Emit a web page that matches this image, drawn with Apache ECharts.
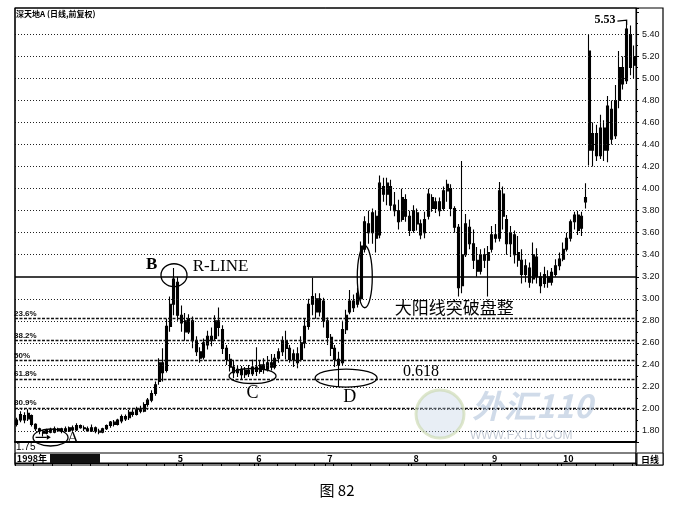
<!DOCTYPE html>
<html><head><meta charset="utf-8">
<script src="https://cdn.jsdelivr.net/npm/echarts@6/dist/echarts.min.js"></script>
<style>html,body{margin:0;padding:0;background:#fff}#c{width:676px;height:505px}</style>
</head><body><div id="c"></div>
<script>
// [open, close, low, high] per trading day
const ohlc = [
[1.86,1.90,1.84,1.92],[1.90,1.95,1.88,1.98],[1.94,1.90,1.87,1.97],[1.91,1.96,1.89,1.99],[1.94,1.86,1.84,1.95],
[1.86,1.82,1.80,1.87],[1.82,1.80,1.77,1.83],[1.80,1.78,1.75,1.81],[1.78,1.81,1.77,1.82],[1.81,1.79,1.78,1.83],
[1.79,1.82,1.78,1.84],[1.82,1.80,1.79,1.83],[1.80,1.82,1.78,1.83],[1.82,1.80,1.79,1.84],[1.80,1.83,1.79,1.84],
[1.83,1.81,1.80,1.85],[1.81,1.85,1.80,1.87],[1.85,1.83,1.82,1.86],[1.83,1.82,1.80,1.85],[1.82,1.80,1.79,1.84],
[1.80,1.83,1.79,1.86],[1.83,1.80,1.78,1.84],[1.80,1.79,1.77,1.82],[1.79,1.82,1.78,1.83],[1.82,1.85,1.81,1.86],
[1.85,1.88,1.83,1.89],[1.88,1.86,1.84,1.90],[1.86,1.90,1.85,1.91],[1.89,1.93,1.87,1.95],[1.93,1.91,1.89,1.95],
[1.92,1.97,1.90,1.99],[1.97,1.95,1.93,2.00],[1.95,2.00,1.94,2.02],[2.00,1.98,1.96,2.03],[1.98,2.04,1.97,2.06],
[2.04,2.08,2.02,2.10],[2.08,2.14,2.06,2.17],[2.14,2.22,2.12,2.25],[2.25,2.42,2.22,2.46],[2.42,2.33,2.25,2.55],
[2.35,2.75,2.33,2.82],[2.75,2.95,2.70,3.02],[2.95,3.18,2.85,3.28],[3.15,2.85,2.80,3.20],[2.85,2.78,2.70,2.94],
[2.80,2.70,2.62,2.87],[2.70,2.82,2.68,2.86],[2.80,2.62,2.55,2.84],[2.62,2.52,2.48,2.66],[2.52,2.46,2.42,2.56],
[2.47,2.60,2.45,2.64],[2.58,2.66,2.54,2.71],[2.66,2.62,2.57,2.74],[2.64,2.80,2.62,2.85],[2.80,2.74,2.66,2.92],
[2.72,2.55,2.50,2.76],[2.55,2.45,2.40,2.58],[2.45,2.38,2.34,2.50],[2.38,2.33,2.28,2.44],[2.33,2.36,2.29,2.40],
[2.36,2.31,2.27,2.39],[2.31,2.35,2.28,2.38],[2.35,2.32,2.29,2.40],[2.32,2.38,2.30,2.45],[2.38,2.34,2.30,2.56],
[2.34,2.40,2.32,2.44],[2.40,2.36,2.32,2.46],[2.36,2.42,2.34,2.48],[2.42,2.38,2.35,2.50],[2.38,2.46,2.36,2.50],
[2.46,2.52,2.42,2.55],[2.52,2.62,2.48,2.66],[2.62,2.55,2.45,2.71],[2.55,2.45,2.42,2.58],[2.45,2.50,2.38,2.54],
[2.50,2.42,2.37,2.56],[2.45,2.60,2.43,2.66],[2.60,2.75,2.55,2.82],[2.75,2.95,2.72,3.00],[2.95,3.02,2.85,3.19],
[3.00,2.88,2.82,3.05],[2.88,3.00,2.84,3.05],[2.98,2.80,2.74,3.01],[2.80,2.65,2.58,2.83],[2.65,2.55,2.48,2.68],
[2.55,2.45,2.38,2.58],[2.45,2.40,2.20,2.52],[2.42,2.72,2.40,2.80],[2.72,2.85,2.68,2.90],[2.88,2.98,2.86,3.08],
[2.98,2.92,2.88,3.04],[2.95,3.05,2.92,3.10],[3.00,3.48,2.98,3.52],[3.45,3.70,3.42,3.75],[3.68,3.60,3.50,3.80],
[3.60,3.78,3.50,3.82],[3.75,3.55,3.42,3.80],[3.58,4.05,3.55,4.12],[4.02,3.95,3.88,4.10],[3.95,4.05,3.85,4.10],
[4.02,3.85,3.80,4.08],[3.85,3.80,3.75,3.97],[3.80,3.70,3.63,3.90],[3.72,3.92,3.70,4.00],[3.90,3.75,3.70,3.95],
[3.75,3.62,3.57,3.80],[3.62,3.80,3.60,3.85],[3.78,3.68,3.62,3.82],[3.68,3.58,3.54,3.72],[3.60,3.72,3.55,3.79],
[3.75,3.95,3.72,4.00],[3.92,3.82,3.79,3.95],[3.82,3.88,3.78,3.92],[3.88,3.80,3.75,3.92],[3.82,3.98,3.80,4.02],
[3.98,4.04,3.88,4.08],[4.00,3.82,3.75,4.04],[3.82,3.65,3.60,3.84],[3.65,3.10,3.02,3.68],[3.12,3.40,3.05,4.25],
[3.40,3.68,3.38,3.77],[3.65,3.50,3.45,3.72],[3.50,3.35,3.27,3.63],[3.35,3.25,3.20,3.47],[3.25,3.40,3.22,3.45],
[3.40,3.35,3.28,3.46],[3.35,3.42,3.02,3.48],[3.45,3.58,3.42,3.66],[3.58,3.55,3.51,3.68],[3.55,3.98,3.52,4.06],
[3.95,3.75,3.63,4.02],[3.72,3.50,3.40,3.76],[3.50,3.60,3.38,3.66],[3.58,3.40,3.32,3.62],[3.42,3.35,3.29,3.57],
[3.35,3.22,3.14,3.45],[3.22,3.30,3.15,3.36],[3.28,3.15,3.10,3.33],[3.18,3.40,3.14,3.51],[3.38,3.20,3.14,3.46],
[3.20,3.12,3.05,3.24],[3.14,3.22,3.10,3.29],[3.20,3.15,3.10,3.26],[3.15,3.24,3.12,3.28],[3.22,3.30,3.20,3.36],
[3.30,3.36,3.26,3.42],[3.36,3.45,3.34,3.51],[3.45,3.55,3.43,3.60],[3.55,3.70,3.52,3.72],[3.70,3.76,3.63,3.79],
[3.76,3.62,3.58,3.80],[3.64,3.75,3.57,3.79],[3.88,3.92,3.82,4.05],[5.25,4.35,4.21,5.40],[4.35,4.50,4.20,4.60],
[4.50,4.30,4.25,4.58],[4.30,4.55,4.27,4.67],[4.55,4.35,4.25,4.62],[4.35,4.75,4.24,4.84],[4.72,4.45,4.40,4.80],
[4.48,4.80,4.45,4.94],[4.80,5.10,4.73,5.25],[5.10,4.95,4.90,5.20],[4.98,5.45,4.95,5.53],[5.40,5.10,5.03,5.48],
[5.12,5.20,5.00,5.30]
];
const monthStarts = [0, 43, 64, 83, 106, 127, 146];
const monthLabels = ['1998年', '5', '6', '7', '8', '9', '10'];
const gridLevels = [1.8,2.0,2.2,2.4,2.6,2.8,3.0,3.2,3.4,3.6,3.8,4.0,4.2,4.4,4.6,4.8,5.0,5.2,5.4];
const fibLevels = [2.82, 2.615, 2.435, 2.27, 2.01];
const fibLabels = ['23.6%', '38.2%', '50%', '61.8%', '80.9%'];
const rLineLevel = 3.20;
const lowA = 1.75, highPeak = 5.53;

const days = ohlc.map((d, i) => 'D' + (i + 1));
const labelAt = {};
monthStarts.forEach((s, k) => labelAt[s] = monthLabels[k]);

const chart = echarts.init(document.getElementById('c'), null, {renderer: 'canvas'});
const serif = '"Liberation Serif","DejaVu Serif",serif';
const cjk = '"Noto Sans CJK SC",sans-serif';

const markData = [];
gridLevels.forEach(v => { if (Math.abs(v - rLineLevel) > 1e-6) markData.push({yAxis: v, lineStyle: {type: [1, 2], color: '#222', width: 1}, label: {show: false}}); });
fibLevels.forEach((v, k) => markData.push({yAxis: v, lineStyle: {type: [3, 1.5], color: '#111', width: 1.4},
  label: {show: true, position: 'insideStartTop', formatter: fibLabels[k], fontSize: 8, fontWeight: 'bold', color: '#111', distance: [-1, 1], fontFamily: 'Liberation Sans'}}));
markData.push({yAxis: rLineLevel, lineStyle: {type: 'solid', color: '#000', width: 1.5}, label: {show: false}});

chart.setOption({
  animation: false,
  backgroundColor: '#fff',
  title: {text: '深天地A (日线,前复权)', left: 16, top: 10, padding: 0,
    textStyle: {fontSize: 8, fontWeight: 'bold', color: '#000', fontFamily: cjk}},
  grid: [
    {left: 15, right: 40, top: 8, bottom: 63, show: true, borderColor: '#000', borderWidth: 1},
    {left: 15, right: 40, top: 453, height: 10, show: true, borderColor: '#000', borderWidth: 1}
  ],
  xAxis: [
    {type: 'category', gridIndex: 0, data: days, boundaryGap: true,
      axisLine: {show: true, lineStyle: {color: '#000', width: 2}}, axisTick: {show: false}, axisLabel: {show: false}, splitLine: {show: false}},
    {type: 'category', gridIndex: 1, data: days, boundaryGap: true, position: 'top',
      axisLine: {show: true, lineStyle: {color: '#000', width: 1}},
      axisTick: {show: true, inside: true, length: 3, lineStyle: {color: '#000'}, interval: (i) => i % 5 === 0 || labelAt[i] !== undefined},
      axisLabel: {show: true, inside: true, margin: 1, fontSize: 9, fontWeight: 'bold', color: '#000', align: 'left', verticalAlign: 'top',
        fontFamily: cjk, interval: (i) => labelAt[i] !== undefined, formatter: (v, i) => labelAt[i] || ''}}
  ],
  yAxis: [
    {type: 'value', gridIndex: 0, position: 'right', min: 1.70, max: 5.64, splitNumber: 20,
      axisLine: {show: true, lineStyle: {color: '#000', width: 1.2}},
      axisTick: {show: true, length: 3, lineStyle: {color: '#000'}},
      minorTick: {show: true, splitNumber: 2, length: 2, lineStyle: {color: '#000'}},
      splitLine: {show: false},
      axisLabel: {show: true, margin: 6, fontSize: 9, color: '#111', fontFamily: 'Liberation Sans',
        formatter: v => gridLevels.some(g => Math.abs(g - v) < 1e-6) ? v.toFixed(2) : ''}},
    {type: 'value', gridIndex: 1, show: false}
  ],
  series: [{
    type: 'candlestick', xAxisIndex: 0, yAxisIndex: 0, data: ohlc, barWidth: 2.5,
    itemStyle: {color: '#000', color0: '#000', borderColor: '#000', borderColor0: '#000', borderWidth: 1.1},
    markLine: {silent: true, symbol: ['none', 'none'], animation: false, data: markData}
  }]
});

const P = (i, v) => chart.convertToPixel({gridIndex: 0}, [i, v]);
const g = [];
function ell(i, v, rx, ry) { const p = P(i, v); g.push({type: 'ellipse', z: 100, shape: {cx: p[0], cy: p[1], rx, ry}, style: {fill: 'none', stroke: '#000', lineWidth: 1.3}}); }
function txt(i, v, text, font, align) { const p = P(i, v); g.push({type: 'text', z: 100, x: p[0], y: p[1], style: {text, font, fill: '#000', align: align || 'center', verticalAlign: 'middle'}}); }

// Annotations anchored to data coordinates
ell(8.9, 1.741, 17.5, 8.5);
txt(15.3, 1.73, 'A', '17px ' + serif);
{ const a = P(5, 1.742), b = P(7.9, 1.742);
  g.push({type: 'polyline', z: 100, shape: {points: [[a[0], a[1]], [b[0], b[1]]]}, style: {stroke: '#000', lineWidth: 1.2, fill: 'none'}});
  g.push({type: 'polygon', z: 100, shape: {points: [[b[0], b[1] - 2.5], [b[0] + 4, b[1]], [b[0], b[1] + 2.5]]}, style: {fill: '#000'}}); }
ell(42.3, 3.214, 13, 11.5);
txt(36.1, 3.31, 'B', 'bold 17px ' + serif);
txt(47.1, 3.29, 'R-LINE', '17px ' + serif, 'left');
ell(62.6, 2.299, 23.5, 7.5);
txt(62.9, 2.145, 'C', '18px ' + serif);
ell(88, 2.28, 31, 9);
txt(88.8, 2.108, 'D', '18px ' + serif);
txt(108.1, 2.335, '0.618', '16px ' + serif);
ell(92.7, 3.20, 7.5, 31);
txt(101.1, 2.92, '大阳线突破盘整', '17px ' + cjk, 'left');
{ const pk = P(163, highPeak); const t = P(160.2, 5.55);
  g.push({type: 'text', z: 100, x: t[0], y: t[1] + 2, style: {text: highPeak.toFixed(2), font: 'bold 12px ' + serif, fill: '#000', align: 'right', verticalAlign: 'middle'}});
  g.push({type: 'polyline', z: 100, shape: {points: [[t[0] + 2, pk[1] + 1], [pk[0], pk[1]], [pk[0], pk[1] + 5]]}, style: {stroke: '#000', lineWidth: 1.2, fill: 'none'}}); }
g.push({type: 'text', z: 100, x: 16, y: 447, style: {text: lowA.toFixed(2), font: '10px "Liberation Sans"', fill: '#000', align: 'left', verticalAlign: 'middle'}});

// Frame & decorations
g.push({type: 'rect', z: 90, shape: {x: 15, y: 8, width: 648, height: 457}, style: {fill: 'none', stroke: '#000', lineWidth: 1.2}});
g.push({type: 'line', z: 90, shape: {x1: 636, y1: 440, x2: 636, y2: 465}, style: {stroke: '#000', lineWidth: 1.2}});
g.push({type: 'rect', z: 95, shape: {x: 50, y: 454, width: 50, height: 9}, style: {fill: '#111'}});
g.push({type: 'rect', z: 90, shape: {x: 637, y: 453, width: 26, height: 12}, style: {fill: '#fff', stroke: '#000', lineWidth: 1}});
g.push({type: 'text', z: 95, x: 650, y: 459.5, style: {text: '日线', font: 'bold 9px ' + cjk, fill: '#000', align: 'center', verticalAlign: 'middle'}});
// watermark
g.push({type: 'circle', z: 80, shape: {cx: 440, cy: 414, r: 24}, style: {fill: 'rgba(190,205,225,0.35)', stroke: 'rgba(200,215,170,0.6)', lineWidth: 3}});
g.push({type: 'text', z: 80, x: 472, y: 406, style: {text: '外汇110', font: 'italic bold 32px ' + cjk, fill: 'rgba(170,190,215,0.55)', align: 'left', verticalAlign: 'middle'}});
g.push({type: 'text', z: 80, x: 470, y: 436, style: {text: 'WWW.FX110.COM', font: '12px "Liberation Sans"', fill: 'rgba(170,180,195,0.7)', align: 'left', verticalAlign: 'middle'}});
// caption
g.push({type: 'text', z: 100, x: 337, y: 490, style: {text: '图 82', font: '15px ' + cjk, fill: '#000', align: 'center', verticalAlign: 'middle'}});

chart.setOption({graphic: g});
</script></body></html>
